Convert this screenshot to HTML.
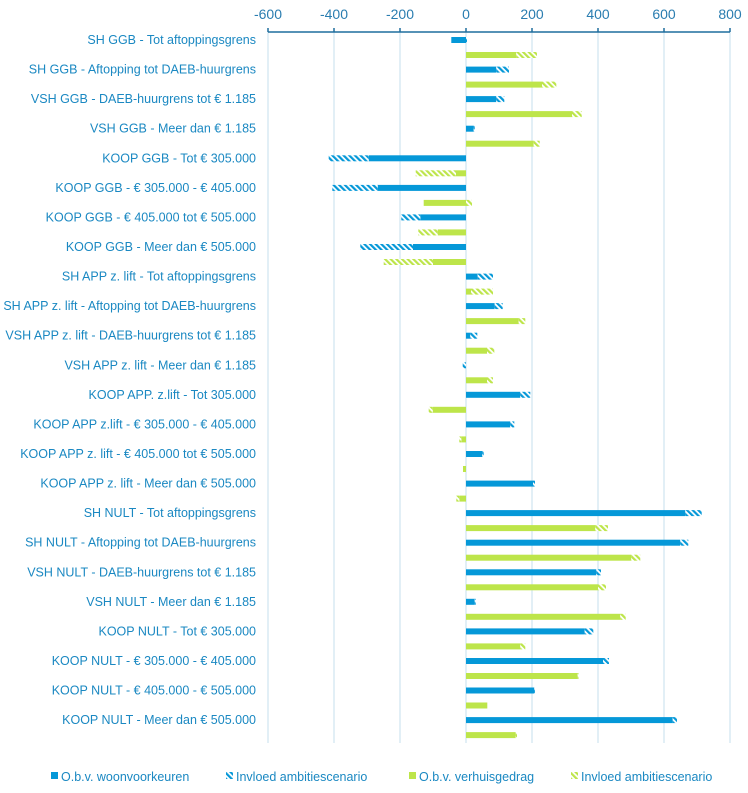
<!DOCTYPE html>
<html><head><meta charset="utf-8"><style>
body{margin:0;background:#fff;}
svg{display:block;font-family:"Liberation Sans",sans-serif;}
.l{font-size:12.5px;fill:#1a88c2;text-anchor:end;}
.t{font-size:14px;fill:#2a7db0;text-anchor:middle;}
.g{font-size:12.5px;fill:#1a88c2;}
</style></head><body>
<svg width="748" height="793" viewBox="0 0 748 793">
<defs>
<pattern id="hb" width="4" height="4" patternUnits="userSpaceOnUse" patternTransform="rotate(-45)"><rect width="4" height="4" fill="#fff"/><rect width="2.2" height="4" fill="#0598d8"/></pattern>
<pattern id="hg" width="4" height="4" patternUnits="userSpaceOnUse" patternTransform="rotate(-45)"><rect width="4" height="4" fill="#fff"/><rect width="2.2" height="4" fill="#bde54a"/></pattern>
</defs>
<g stroke="#d3e6f2" stroke-width="1.3">
<line x1="268" y1="32" x2="268" y2="743"/><line x1="334" y1="32" x2="334" y2="743"/><line x1="400" y1="32" x2="400" y2="743"/><line x1="466" y1="32" x2="466" y2="743"/><line x1="532" y1="32" x2="532" y2="743"/><line x1="598" y1="32" x2="598" y2="743"/><line x1="664" y1="32" x2="664" y2="743"/><line x1="730" y1="32" x2="730" y2="743"/>
</g>
<g stroke="#1f6e9e" stroke-width="1.5">
<line x1="268" y1="32" x2="730" y2="32"/>
<line x1="268" y1="28" x2="268" y2="32"/><line x1="334" y1="28" x2="334" y2="32"/><line x1="400" y1="28" x2="400" y2="32"/><line x1="466" y1="28" x2="466" y2="32"/><line x1="532" y1="28" x2="532" y2="32"/><line x1="598" y1="28" x2="598" y2="32"/><line x1="664" y1="28" x2="664" y2="32"/><line x1="730" y1="28" x2="730" y2="32"/>
</g>
<g class="t">
<text x="268" y="19" class="t">-600</text><text x="334" y="19" class="t">-400</text><text x="400" y="19" class="t">-200</text><text x="466" y="19" class="t">0</text><text x="532" y="19" class="t">200</text><text x="598" y="19" class="t">400</text><text x="664" y="19" class="t">600</text><text x="730" y="19" class="t">800</text>
</g>
<g>
<!-- row helper: blue y, green y+15 ; height 6 -->
<!-- 1 -->
<rect x="451.3" y="37" width="14.7" height="6" fill="#0598d8"/><rect x="466" y="37" width="1" height="6" fill="url(#hb)"/>
<rect x="466" y="52" width="50.3" height="6" fill="#bde54a"/><rect x="516.3" y="52" width="20.7" height="6" fill="url(#hg)"/>
<!-- 2 -->
<rect x="466" y="66.6" width="30.3" height="6" fill="#0598d8"/><rect x="496.3" y="66.6" width="12.7" height="6" fill="url(#hb)"/>
<rect x="466" y="81.6" width="76" height="6" fill="#bde54a"/><rect x="542" y="81.6" width="14.3" height="6" fill="url(#hg)"/>
<!-- 3 -->
<rect x="466" y="96.1" width="30.3" height="6" fill="#0598d8"/><rect x="496.3" y="96.1" width="8" height="6" fill="url(#hb)"/>
<rect x="466" y="111.1" width="106" height="6" fill="#bde54a"/><rect x="572" y="111.1" width="9.7" height="6" fill="url(#hg)"/>
<!-- 4 -->
<rect x="466" y="125.7" width="7.7" height="6" fill="#0598d8"/><rect x="473.7" y="125.7" width="1" height="6" fill="url(#hb)"/>
<rect x="466" y="140.7" width="67.7" height="6" fill="#bde54a"/><rect x="533.7" y="140.7" width="6" height="6" fill="url(#hg)"/>
<!-- 5 -->
<rect x="368.7" y="155.3" width="97.3" height="6" fill="#0598d8"/><rect x="328.7" y="155.3" width="40" height="6" fill="url(#hb)"/>
<rect x="456" y="170.3" width="10" height="6" fill="#bde54a"/><rect x="415.7" y="170.3" width="40.3" height="6" fill="url(#hg)"/>
<!-- 6 -->
<rect x="377.7" y="184.9" width="88.3" height="6" fill="#0598d8"/><rect x="332.3" y="184.9" width="45.4" height="6" fill="url(#hb)"/>
<rect x="423.7" y="199.9" width="42.3" height="6" fill="#bde54a"/><rect x="466" y="199.9" width="6" height="6" fill="url(#hg)"/>
<!-- 7 -->
<rect x="420.3" y="214.4" width="45.7" height="6" fill="#0598d8"/><rect x="401.3" y="214.4" width="19" height="6" fill="url(#hb)"/>
<rect x="437.7" y="229.4" width="28.3" height="6" fill="#bde54a"/><rect x="418.3" y="229.4" width="19.4" height="6" fill="url(#hg)"/>
<!-- 8 -->
<rect x="413" y="244" width="53" height="6" fill="#0598d8"/><rect x="360.3" y="244" width="52.7" height="6" fill="url(#hb)"/>
<rect x="433" y="259" width="33" height="6" fill="#bde54a"/><rect x="383.7" y="259" width="49.3" height="6" fill="url(#hg)"/>
<!-- 9 -->
<rect x="466" y="273.6" width="11.7" height="6" fill="#0598d8"/><rect x="477.7" y="273.6" width="15.3" height="6" fill="url(#hb)"/>
<rect x="466" y="288.6" width="5" height="6" fill="#bde54a"/><rect x="471" y="288.6" width="22" height="6" fill="url(#hg)"/>
<!-- 10 -->
<rect x="466" y="303.1" width="28.7" height="6" fill="#0598d8"/><rect x="494.7" y="303.1" width="8" height="6" fill="url(#hb)"/>
<rect x="466" y="318.1" width="52.7" height="6" fill="#bde54a"/><rect x="518.7" y="318.1" width="6.6" height="6" fill="url(#hg)"/>
<!-- 11 -->
<rect x="466" y="332.7" width="4.3" height="6" fill="#0598d8"/><rect x="470.3" y="332.7" width="7" height="6" fill="url(#hb)"/>
<rect x="466" y="347.7" width="21" height="6" fill="#bde54a"/><rect x="487" y="347.7" width="7.3" height="6" fill="url(#hg)"/>
<!-- 12 -->
<rect x="462.7" y="362.3" width="3.3" height="6" fill="url(#hb)"/>
<rect x="466" y="377.3" width="21" height="6" fill="#bde54a"/><rect x="487" y="377.3" width="6" height="6" fill="url(#hg)"/>
<!-- 13 -->
<rect x="466" y="391.8" width="54.3" height="6" fill="#0598d8"/><rect x="520.3" y="391.8" width="10" height="6" fill="url(#hb)"/>
<rect x="432.7" y="406.8" width="33.3" height="6" fill="#bde54a"/><rect x="428.7" y="406.8" width="4" height="6" fill="url(#hg)"/>
<!-- 14 -->
<rect x="466" y="421.4" width="44.3" height="6" fill="#0598d8"/><rect x="510.3" y="421.4" width="4" height="6" fill="url(#hb)"/>
<rect x="461.3" y="436.4" width="4.7" height="6" fill="#bde54a"/><rect x="459.3" y="436.4" width="2" height="6" fill="url(#hg)"/>
<!-- 15 -->
<rect x="466" y="451" width="16.3" height="6" fill="#0598d8"/><rect x="482.3" y="451" width="1.4" height="6" fill="url(#hb)"/>
<rect x="463" y="466" width="3" height="6" fill="#bde54a"/>
<!-- 16 -->
<rect x="466" y="480.6" width="67" height="6" fill="#0598d8"/><rect x="533" y="480.6" width="2" height="6" fill="url(#hb)"/>
<rect x="459.3" y="495.6" width="6.7" height="6" fill="#bde54a"/><rect x="456.3" y="495.6" width="3" height="6" fill="url(#hg)"/>
<!-- 17 -->
<rect x="466" y="510.1" width="219.3" height="6" fill="#0598d8"/><rect x="685.3" y="510.1" width="16.4" height="6" fill="url(#hb)"/>
<rect x="466" y="525.1" width="129.3" height="6" fill="#bde54a"/><rect x="595.3" y="525.1" width="12.7" height="6" fill="url(#hg)"/>
<!-- 18 -->
<rect x="466" y="539.7" width="214.3" height="6" fill="#0598d8"/><rect x="680.3" y="539.7" width="8" height="6" fill="url(#hb)"/>
<rect x="466" y="554.7" width="165.3" height="6" fill="#bde54a"/><rect x="631.3" y="554.7" width="9" height="6" fill="url(#hg)"/>
<!-- 19 -->
<rect x="466" y="569.3" width="130.3" height="6" fill="#0598d8"/><rect x="596.3" y="569.3" width="4.7" height="6" fill="url(#hb)"/>
<rect x="466" y="584.3" width="132" height="6" fill="#bde54a"/><rect x="598" y="584.3" width="8" height="6" fill="url(#hg)"/>
<!-- 20 -->
<rect x="466" y="598.8" width="8.7" height="6" fill="#0598d8"/><rect x="474.7" y="598.8" width="1" height="6" fill="url(#hb)"/>
<rect x="466" y="613.8" width="154.3" height="6" fill="#bde54a"/><rect x="620.3" y="613.8" width="5.4" height="6" fill="url(#hg)"/>
<!-- 21 -->
<rect x="466" y="628.4" width="118.7" height="6" fill="#0598d8"/><rect x="584.7" y="628.4" width="8.6" height="6" fill="url(#hb)"/>
<rect x="466" y="643.4" width="54.3" height="6" fill="#bde54a"/><rect x="520.3" y="643.4" width="5" height="6" fill="url(#hg)"/>
<!-- 22 -->
<rect x="466" y="658" width="137" height="6" fill="#0598d8"/><rect x="603" y="658" width="6" height="6" fill="url(#hb)"/>
<rect x="466" y="673" width="111.7" height="6" fill="#bde54a"/><rect x="577.7" y="673" width="0.8" height="6" fill="url(#hg)"/>
<!-- 23 -->
<rect x="466" y="687.5" width="68.3" height="6" fill="#0598d8"/><rect x="534.3" y="687.5" width="0.7" height="6" fill="url(#hb)"/>
<rect x="466" y="702.5" width="21.3" height="6" fill="#bde54a"/>
<!-- 24 -->
<rect x="466" y="717.1" width="206.7" height="6" fill="#0598d8"/><rect x="672.7" y="717.1" width="4.3" height="6" fill="url(#hb)"/>
<rect x="466" y="732.1" width="49.7" height="6" fill="#bde54a"/><rect x="515.7" y="732.1" width="1.3" height="6" fill="url(#hg)"/>
</g>
<g class="l">
<text x="256" y="44" class="l">SH GGB - Tot aftoppingsgrens</text>
<text x="256" y="73.6" class="l">SH GGB - Aftopping tot DAEB-huurgrens</text>
<text x="256" y="103.1" class="l">VSH GGB - DAEB-huurgrens tot € 1.185</text>
<text x="256" y="132.7" class="l">VSH GGB - Meer dan € 1.185</text>
<text x="256" y="162.3" class="l">KOOP GGB - Tot € 305.000</text>
<text x="256" y="191.9" class="l">KOOP GGB - € 305.000 - € 405.000</text>
<text x="256" y="221.4" class="l">KOOP GGB - € 405.000 tot € 505.000</text>
<text x="256" y="251" class="l">KOOP GGB - Meer dan € 505.000</text>
<text x="256" y="280.6" class="l">SH APP z. lift - Tot aftoppingsgrens</text>
<text x="256" y="310.1" class="l">SH APP z. lift - Aftopping tot DAEB-huurgrens</text>
<text x="256" y="339.7" class="l">VSH APP z. lift - DAEB-huurgrens tot € 1.185</text>
<text x="256" y="369.3" class="l">VSH APP z. lift - Meer dan € 1.185</text>
<text x="256" y="398.8" class="l">KOOP APP. z.lift - Tot 305.000</text>
<text x="256" y="428.4" class="l">KOOP APP z.lift - € 305.000 - € 405.000</text>
<text x="256" y="458" class="l">KOOP APP z. lift - € 405.000 tot € 505.000</text>
<text x="256" y="487.6" class="l">KOOP APP z. lift - Meer dan € 505.000</text>
<text x="256" y="517.1" class="l">SH NULT - Tot aftoppingsgrens</text>
<text x="256" y="546.7" class="l">SH NULT - Aftopping tot DAEB-huurgrens</text>
<text x="256" y="576.3" class="l">VSH NULT - DAEB-huurgrens tot € 1.185</text>
<text x="256" y="605.8" class="l">VSH NULT - Meer dan € 1.185</text>
<text x="256" y="635.4" class="l">KOOP NULT - Tot € 305.000</text>
<text x="256" y="665" class="l">KOOP NULT - € 305.000 - € 405.000</text>
<text x="256" y="694.5" class="l">KOOP NULT - € 405.000 - € 505.000</text>
<text x="256" y="724.1" class="l">KOOP NULT - Meer dan € 505.000</text>
</g>
<g>
<rect x="51" y="772" width="7" height="7" fill="#0598d8"/>
<text x="61" y="781" class="g">O.b.v. woonvoorkeuren</text>
<rect x="226" y="772" width="7" height="7" fill="url(#hb)"/>
<text x="236" y="781" class="g">Invloed ambitiescenario</text>
<rect x="409" y="772" width="7" height="7" fill="#bde54a"/>
<text x="419" y="781" class="g">O.b.v. verhuisgedrag</text>
<rect x="571" y="772" width="7" height="7" fill="url(#hg)"/>
<text x="581" y="781" class="g">Invloed ambitiescenario</text>
</g>
</svg>
</body></html>
